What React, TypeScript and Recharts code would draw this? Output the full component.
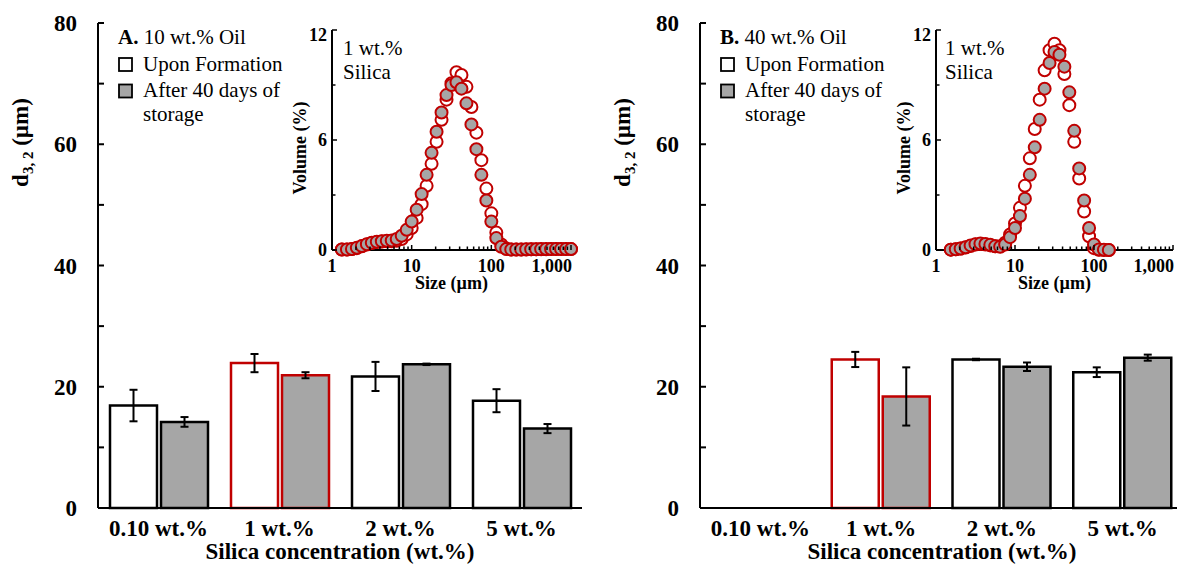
import React from 'react';
import { ComposedChart, Bar, ErrorBar, Cell, XAxis, YAxis, ScatterChart, Scatter } from 'recharts';

const FONT = '"Liberation Serif", "Times New Roman", Times, serif';
const RED = '#c00000';
const GRAY = '#a6a6a6';

// ---- bar data ----
const categories = ['0.10 wt.%', '1 wt.%', '2 wt.%', '5 wt.%'];
const oil10Upon = [16.9, 23.9, 21.7, 17.7];
const oil10UponErr = [2.6, 1.5, 2.4, 1.9];
const oil10After = [14.2, 21.9, 23.7, 13.1];
const oil10AfterErr = [0.8, 0.5, 0.12, 0.75];
const oil40Upon = [null, 24.5, 24.5, 22.4];
const oil40UponErr = [null, 1.25, 0.12, 0.8];
const oil40After = [null, 18.4, 23.3, 24.8];
const oil40AfterErr = [null, 4.8, 0.7, 0.5];
const highlighted = '1 wt.%';

const barYTicks = [0, 10, 20, 30, 40, 50, 60, 70, 80];
const barYLabels = [0, 20, 40, 60, 80];

// ---- inset data ----
const insetXTicks = [1, 2, 3, 4, 5, 6, 7, 8, 9, 10, 20, 30, 40, 50, 60, 70, 80, 90, 100, 200, 300, 400, 500, 600, 700, 800, 900, 1000];
const insetXLabels: Record<number, string> = { 1: '1', 10: '10', 100: '100', 1000: '1,000' };
const insetYTicks = [0, 3, 6, 9, 12];
const insetYLabels = [0, 6, 12];

const sizesA = [1.33, 1.54, 1.78, 2.05, 2.37, 2.74, 3.16, 3.65, 4.22, 4.87,
  5.62, 6.49, 7.5, 8.66, 10, 11.55, 13.34, 15.4, 17.78, 20.54,
  23.71, 27.38, 31.62, 36.52, 42.17, 48.7, 56.23, 64.94, 74.99, 86.6,
  100, 115.5, 133.4, 154, 177.8, 205.4, 237.1, 273.8, 316.2, 365.2,
  421.7, 487, 562.3, 649.4, 749.9, 866, 1000];
const volAUpon = [0.03, 0.03, 0.05, 0.1, 0.2, 0.3, 0.38, 0.43, 0.46, 0.48,
  0.48, 0.5, 0.6, 0.85, 1.2, 1.75, 2.5, 3.5, 4.7, 5.9,
  7.1, 8.2, 9.1, 9.7, 9.55, 8.9, 7.8, 6.4, 4.9, 3.35,
  2.0, 0.95, 0.3, 0.08, 0.03, 0.03, 0.03, 0.03, 0.04, 0.04,
  0.04, 0.04, 0.05, 0.05, 0.05, 0.05, 0.05];
const volAAfter = [0.03, 0.03, 0.06, 0.12, 0.22, 0.32, 0.4, 0.45, 0.48, 0.5,
  0.52, 0.6, 0.78, 1.1, 1.55, 2.2, 3.05, 4.1, 5.3, 6.45,
  7.5, 8.45, 9.0, 9.15, 8.8, 8.0, 6.85, 5.5, 4.1, 2.7,
  1.55, 0.65, 0.18, 0.05, 0.03, 0.03, 0.03, 0.04, 0.04, 0.04,
  0.05, 0.05, 0.05, 0.05, 0.05, 0.05, 0.05];

const sizesB = [1.54, 1.78, 2.05, 2.37, 2.74, 3.16, 3.65, 4.22, 4.87, 5.62,
  6.49, 7.5, 8.66, 10, 11.55, 13.34, 15.4, 17.78, 20.54, 23.71,
  27.38, 31.62, 36.52, 42.17, 48.7, 56.23, 64.94, 74.99, 86.6, 100,
  115.5, 133.4, 154];
const volBUpon = [0.02, 0.04, 0.08, 0.14, 0.22, 0.3, 0.33, 0.3, 0.25, 0.2,
  0.2, 0.4, 0.85, 1.45, 2.3, 3.5, 5.0, 6.6, 8.2, 9.8,
  10.9, 11.25, 10.9, 9.6, 7.9, 5.9, 3.9, 2.1, 0.75, 0.1,
  0.01, 0, 0];
const volBAfter = [0.02, 0.04, 0.08, 0.15, 0.25, 0.32, 0.35, 0.33, 0.28, 0.2,
  0.18, 0.3, 0.7, 1.2, 1.85, 2.8, 4.1, 5.6, 7.1, 8.8,
  10.2, 10.8, 10.65, 10.0, 8.6, 6.5, 4.45, 2.7, 1.2, 0.3,
  0.03, 0.01, 0];

const frameLine = { stroke: '#000', strokeWidth: 2 };

const BarYTick = (props: any) => {
  const { x, y, payload } = props;
  const v = payload.value;
  return (
    <g>
      <line x1={x} x2={x + 6} y1={y} y2={y} stroke="#000" strokeWidth={2} />
      {barYLabels.includes(v) && (
        <text x={x - 21} y={y + 8} textAnchor="end" fontFamily={FONT} fontWeight="bold" fontSize={23} fill="#000">{v}</text>
      )}
    </g>
  );
};

const BarXTick = (props: any) => {
  const { x, y, payload } = props;
  return (
    <text x={x} y={y + 28} textAnchor="middle" fontFamily={FONT} fontWeight="bold" fontSize={23} fill="#000">{payload.value}</text>
  );
};

const InsetXTick = (props: any) => {
  const { x, y, payload } = props;
  const v = payload.value;
  const lab = insetXLabels[v];
  return (
    <g>
      <line x1={x} x2={x} y1={y} y2={y - (lab ? 5 : 3.5)} stroke="#000" strokeWidth={1.5} />
      {lab && (
        <text x={v === 1000 ? x + 1 : x} y={y + 21.5} textAnchor={v === 1000 ? 'end' : 'middle'} fontFamily={FONT} fontWeight="bold" fontSize={18} fill="#000">{lab}</text>
      )}
    </g>
  );
};

const InsetYTick = (props: any) => {
  const { x, y, payload } = props;
  const v = payload.value;
  const lab = insetYLabels.includes(v);
  return (
    <g>
      <line x1={x} x2={x + (lab ? 5 : 3.5)} y1={y} y2={y} stroke="#000" strokeWidth={1.5} />
      {lab && (
        <text x={x - 5} y={v === 12 ? y + 11 : y + 6} textAnchor="end" fontFamily={FONT} fontWeight="bold" fontSize={18} fill="#000">{v}</text>
      )}
    </g>
  );
};

function BarPanel(props: { left: number; axisW: number; mr: number; upon: (number | null)[]; uponErr: (number | null)[]; after: (number | null)[]; afterErr: (number | null)[] }) {
  const { left, axisW, mr, upon, uponErr, after, afterErr } = props;
  const data = categories.map((c, i) => ({ name: c, upon: upon[i], uponErr: uponErr[i], after: after[i], afterErr: afterErr[i] }));
  return (
    <div style={{ position: 'absolute', left, top: 0 }}>
      <ComposedChart width={600} height={565} data={data} margin={{ top: 23, right: mr, bottom: 0, left: 0 }} barSize={47} barGap={4}>
        <XAxis dataKey="name" type="category" height={57} interval={0} tickLine={false} tickSize={0} tickMargin={0} axisLine={frameLine} tick={BarXTick} />
        <XAxis xAxisId="top" orientation="top" dataKey="name" type="category" height={0} tick={false} tickLine={false} axisLine={frameLine} />
        <YAxis type="number" domain={[0, 80]} ticks={barYTicks} interval={0} width={axisW} tickLine={false} tickSize={0} tickMargin={0} axisLine={frameLine} tick={BarYTick} />
        <YAxis yAxisId="right" orientation="right" type="number" domain={[0, 80]} allowDataOverflow width={0} tick={false} tickLine={false} axisLine={frameLine} />
        <Bar dataKey="upon" isAnimationActive={false} strokeWidth={2.5}>
          {data.map((d, i) => (
            <Cell key={`u${i}`} fill="#ffffff" stroke={d.name === highlighted ? RED : '#000'} />
          ))}
          <ErrorBar dataKey="uponErr" direction="y" width={4} stroke="#000" strokeWidth={2} />
        </Bar>
        <Bar dataKey="after" isAnimationActive={false} strokeWidth={2.5}>
          {data.map((d, i) => (
            <Cell key={`a${i}`} fill={GRAY} stroke={d.name === highlighted ? RED : '#000'} />
          ))}
          <ErrorBar dataKey="afterErr" direction="y" width={4} stroke="#000" strokeWidth={2} />
        </Bar>
      </ComposedChart>
    </div>
  );
}

const OpenMarker = (p: any) => <circle cx={p.cx} cy={p.cy} r={6} fill="#ffffff" stroke={RED} strokeWidth={2} />;
const FilledMarker = (p: any) => <circle cx={p.cx} cy={p.cy} r={6} fill={GRAY} stroke={RED} strokeWidth={2} />;

function Inset(props: { left: number; axisW: number; mr: number; sizes: number[]; upon: number[]; after: number[] }) {
  const { left, axisW, mr, sizes, upon, after } = props;
  const uponData = sizes.map((s, i) => ({ size: s, vol: upon[i] }));
  const afterData = sizes.map((s, i) => ({ size: s, vol: after[i] }));
  return (
    <div style={{ position: 'absolute', left, top: 0 }}>
      <ScatterChart width={310} height={300} margin={{ top: 30, right: mr, bottom: 0, left: 0 }}>
        <XAxis dataKey="size" type="number" scale="log" domain={[1, 1000]} ticks={insetXTicks} interval={0} height={50} tickLine={false} tickSize={0} tickMargin={0} axisLine={frameLine} tick={InsetXTick} />
        <XAxis xAxisId="top" orientation="top" type="number" domain={[0, 1]} allowDataOverflow height={0} tick={false} tickLine={false} axisLine={frameLine} />
        <YAxis dataKey="vol" type="number" domain={[0, 12]} ticks={insetYTicks} interval={0} width={axisW} tickLine={false} tickSize={0} tickMargin={0} axisLine={frameLine} tick={InsetYTick} />
        <YAxis yAxisId="right" orientation="right" type="number" domain={[0, 12]} allowDataOverflow width={0} tick={false} tickLine={false} axisLine={frameLine} />
        <Scatter data={uponData} isAnimationActive={false} shape={OpenMarker} />
        <Scatter data={afterData} isAnimationActive={false} shape={FilledMarker} />
      </ScatterChart>
    </div>
  );
}

function Legend(props: { x: number; tag: string; oil: string }) {
  const { x, tag, oil } = props;
  return (
    <g fontFamily={FONT} fontSize={21} fill="#000">
      <text x={x} y={44}><tspan fontWeight="bold">{tag}</tspan> {oil}</text>
      <rect x={x + 1} y={58} width={13} height={13} fill="#ffffff" stroke="#000" strokeWidth={1.8} />
      <text x={x + 25} y={71}>Upon Formation</text>
      <rect x={x + 1} y={84.5} width={13} height={13} fill={GRAY} stroke="#000" strokeWidth={1.8} />
      <text x={x + 25} y={97}>After 40 days of</text>
      <text x={x + 25} y={121}>storage</text>
    </g>
  );
}

function YTitle(props: { x: number }) {
  return (
    <text transform={`translate(${props.x},142.5) rotate(-90)`} textAnchor="middle" fontFamily={FONT} fontWeight="bold" fontSize={23} fill="#000">
      d<tspan fontSize={15} dy={5}>3, 2</tspan><tspan dy={-5}> (µm)</tspan>
    </text>
  );
}

function InsetTexts(props: { left: number; right: number; noteX: number }) {
  const { left, right, noteX } = props;
  return (
    <g fontFamily={FONT} fill="#000">
      <text x={noteX} y={55} fontSize={21}>1 wt.%</text>
      <text x={noteX} y={79} fontSize={21}>Silica</text>
      <text transform={`translate(${left - 26},148) rotate(-90)`} textAnchor="middle" fontWeight="bold" fontSize={18}>Volume (%)</text>
      <text x={(left + right) / 2} y={289} textAnchor="middle" fontWeight="bold" fontSize={18}>Size (µm)</text>
    </g>
  );
}

export default function App() {
  return (
    <div style={{ position: 'fixed', left: 0, top: 0, width: 1177, height: 565, overflow: 'hidden', background: '#fff' }}>
      <BarPanel left={0} axisW={98} mr={18} upon={oil10Upon} uponErr={oil10UponErr} after={oil10After} afterErr={oil10AfterErr} />
      <BarPanel left={600} axisW={100} mr={17} upon={oil40Upon} uponErr={oil40UponErr} after={oil40After} afterErr={oil40AfterErr} />
      <Inset left={280} axisW={52} mr={19} sizes={sizesA} upon={volAUpon} after={volAAfter} />
      <Inset left={880} axisW={56} mr={17} sizes={sizesB} upon={volBUpon} after={volBAfter} />
      <svg width={1177} height={565} style={{ position: 'absolute', left: 0, top: 0, pointerEvents: 'none' }}>
        <Legend x={118} tag="A." oil="10 wt.% Oil" />
        <Legend x={720} tag="B." oil="40 wt.% Oil" />
        <YTitle x={28} />
        <YTitle x={630} />
        <text x={340} y={559} textAnchor="middle" fontFamily={FONT} fontWeight="bold" fontSize={23} fill="#000">Silica concentration (wt.%)</text>
        <text x={942} y={559} textAnchor="middle" fontFamily={FONT} fontWeight="bold" fontSize={23} fill="#000">Silica concentration (wt.%)</text>
        <InsetTexts left={332} right={571} noteX={343} />
        <InsetTexts left={936} right={1173} noteX={945} />
      </svg>
    </div>
  );
}
